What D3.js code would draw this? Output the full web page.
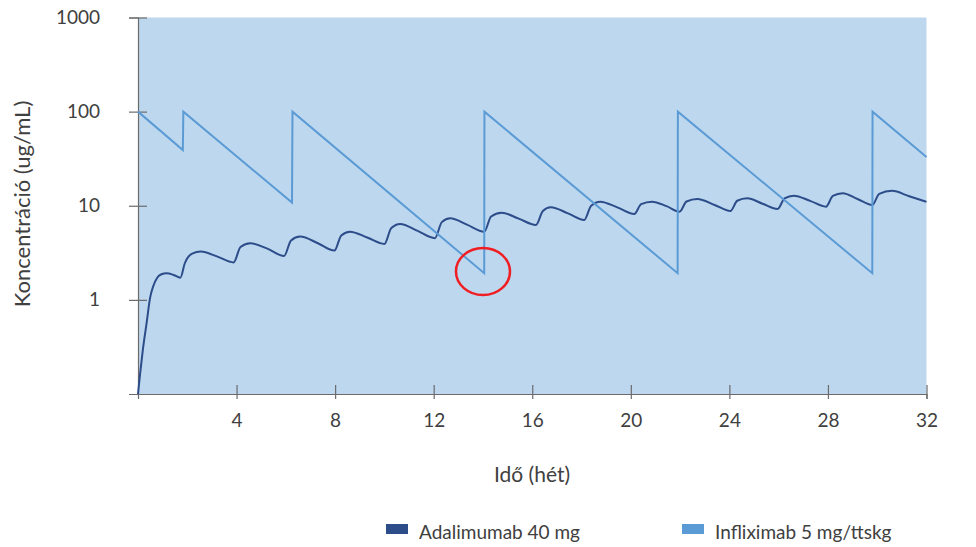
<!DOCTYPE html>
<html>
<head>
<meta charset="utf-8">
<script src="https://cdn.jsdelivr.net/npm/d3@7"></script>
<style>
  body { margin: 0; background: #fff; }
  text { font-family: Lato, "Open Sans", sans-serif; fill: #404040; }
</style>
</head>
<body>
<div id="chart"></div>
<script>
const width = 976;
const height = 547;

const xTicks = [4, 8, 12, 16, 20, 24, 28, 32];
const yTicks = [1, 10, 100, 1000];

const seriesNames = ["Adalimumab 40 mg", "Infliximab 5 mg/ttskg"];
const seriesColors = ["#2c4c8a", "#5b9bd5"];

// adalimumab: weeks / concentration (ug/mL)
const adaWeeks = [0, 0.08, 0.2, 0.35, 0.49, 0.62, 0.78, 0.95, 1.16, 1.45, 1.72,
    1.9, 2.2, 2.55, 3.2, 3.88,
    4.16, 4.55, 5.25, 5.93,
    6.21, 6.58, 7.3, 7.97,
    8.25, 8.6, 9.3, 10.0,
    10.28, 10.64, 11.35, 12.05,
    12.33, 12.67, 13.35, 14.05,
    14.33, 14.75, 15.45, 16.15,
    16.43, 16.75, 17.45, 18.11,
    18.39, 18.76, 19.45, 20.14,
    20.42, 20.86, 21.45, 21.98,
    22.26, 22.7, 23.4, 24.04,
    24.32, 24.72, 25.35, 25.96,
    26.24, 26.61, 27.3, 27.92,
    28.2, 28.6, 29.2, 29.8,
    30.08, 30.6, 31.3, 32];
const adaConc = [0.1, 0.16, 0.3, 0.57, 1.05, 1.4, 1.72, 1.87, 1.92, 1.84, 1.72,
    2.45, 3.1, 3.26, 2.9, 2.5,
    3.65, 4.0, 3.5, 2.93,
    4.28, 4.7, 4.0, 3.34,
    4.84, 5.31, 4.6, 3.93,
    5.8, 6.41, 5.4, 4.52,
    6.7, 7.36, 6.3, 5.31,
    7.7, 8.45, 7.3, 6.25,
    8.8, 9.64, 8.3, 7.07,
    10.0, 11.06, 9.6, 8.18,
    10.4, 11.06, 9.9, 8.65,
    11.1, 11.8, 10.2, 8.8,
    11.3, 12.0, 10.5, 9.25,
    12.0, 12.8, 11.2, 9.78,
    12.7, 13.6, 11.8, 10.2,
    13.4, 14.4, 12.6, 11.0];

// infliximab: weeks / concentration (ug/mL)
const infWeeks = [0, 1.82, 1.84, 6.25, 6.27, 14.05, 14.06, 21.9, 21.91, 29.8, 29.81, 32];
const infConc = [100, 39, 100, 10.8, 100, 1.92, 100, 1.92, 100, 1.92, 100, 33];

// annotated trough
const markWeek = 14;
const markConc = 2;

const plot = {left: 138, right: 926.5, top: 17.5, bottom: 394};

const svg = d3.select("#chart").append("svg")
    .attr("width", width)
    .attr("height", height);

const x = d3.scaleLinear().domain([0, 32]).range([plot.left, plot.right]);
const y = d3.scaleLog().domain([0.1, 1000]).range([plot.bottom, plot.top]);

svg.append("rect")
    .attr("x", plot.left)
    .attr("y", plot.top)
    .attr("width", plot.right - plot.left)
    .attr("height", plot.bottom - plot.top)
    .attr("fill", "#bdd7ee");

// y axis
const yAxis = svg.append("g")
    .attr("transform", `translate(${plot.left},0)`)
    .call(d3.axisLeft(y).tickValues(yTicks).tickFormat(d3.format("d")).tickSize(9).tickPadding(29));
yAxis.selectAll(".tick line").attr("x2", 9).attr("x1", -9);
yAxis.selectAll("text").style("font-size", "19px");

// x axis
const xAxis = svg.append("g")
    .attr("transform", `translate(0,${plot.bottom})`)
    .call(d3.axisBottom(x).tickValues(xTicks).tickSize(5).tickPadding(15));
xAxis.selectAll(".tick line").attr("y1", -9);
xAxis.selectAll("text").style("font-size", "19px");

svg.selectAll(".domain, .tick line").attr("stroke", "#6b6b6b").attr("stroke-width", 1.2);
svg.selectAll(".tick text").attr("fill", "#404040");

const line = d3.line()
    .x(d => x(d[0]))
    .y(d => y(d[1]));

svg.append("path")
    .datum(d3.zip(adaWeeks, adaConc))
    .attr("d", line.curve(d3.curveMonotoneX))
    .attr("fill", "none")
    .attr("stroke", seriesColors[0])
    .attr("stroke-width", 2);

svg.append("path")
    .datum(d3.zip(infWeeks, infConc))
    .attr("d", line.curve(d3.curveLinear))
    .attr("fill", "none")
    .attr("stroke", seriesColors[1])
    .attr("stroke-width", 2);

svg.append("ellipse")
    .attr("cx", x(markWeek))
    .attr("cy", y(markConc))
    .attr("rx", 27)
    .attr("ry", 23.5)
    .attr("fill", "none")
    .attr("stroke", "#f01e23")
    .attr("stroke-width", 2.5);

// axis titles
svg.append("text")
    .attr("transform", "translate(30,204) rotate(-90)")
    .attr("text-anchor", "middle")
    .style("font-size", "22px")
    .text("Koncentráció (ug/mL)");

svg.append("text")
    .attr("x", 532)
    .attr("y", 482)
    .attr("text-anchor", "middle")
    .style("font-size", "21px")
    .text("Idő (hét)");

// legend
const legendX = [386, 682];
const legend = svg.selectAll(".legend")
    .data(seriesNames)
    .join("g")
    .attr("class", "legend")
    .attr("transform", (d, i) => `translate(${legendX[i]},524)`);

legend.append("rect")
    .attr("width", 22)
    .attr("height", 10)
    .attr("fill", (d, i) => seriesColors[i]);

legend.append("text")
    .attr("x", 33)
    .attr("y", 15)
    .style("font-size", "19px")
    .text(d => d);
</script>
</body>
</html>
